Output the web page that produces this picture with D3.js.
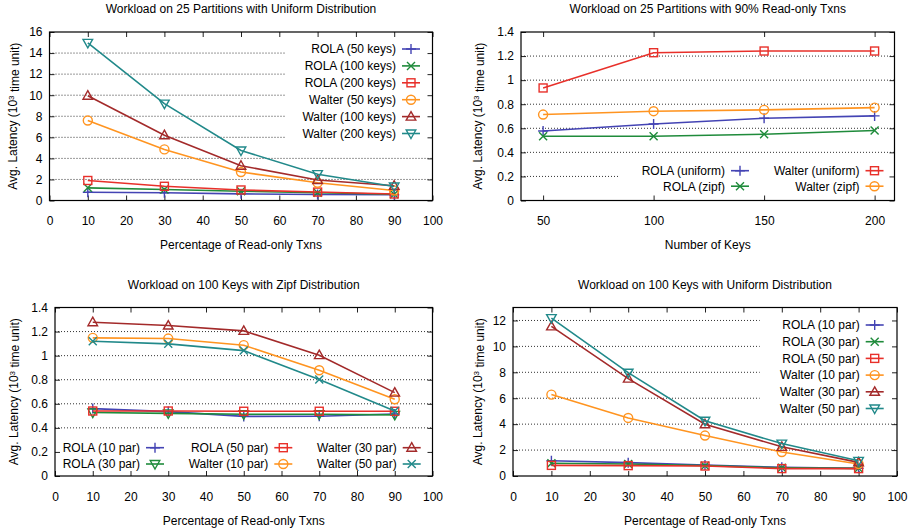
<!DOCTYPE html>
<html>
<head>
<meta charset="utf-8">
<script src="https://cdn.jsdelivr.net/npm/d3@7"></script>
<style>
  body { margin: 0; background: #fff; }
  svg text { font-family: "Liberation Sans", Arial, Helvetica, sans-serif; fill: #000; }
</style>
</head>
<body>
<div id="chart"></div>
<script>
// Data {{{
// x values
const pctX = [10, 30, 50, 70, 90];
const keysX = [50, 100, 150, 200];

// tick labels
const pctTicks = [0, 10, 20, 30, 40, 50, 60, 70, 80, 90, 100];
const keysTicks = [50, 100, 150, 200];
const ticks16 = [0, 2, 4, 6, 8, 10, 12, 14, 16];
const ticks12 = [0, 2, 4, 6, 8, 10, 12];
const ticks14 = [0, 0.2, 0.4, 0.6, 0.8, 1, 1.2, 1.4];

// Workload on 25 Partitions with Uniform Distribution
const p1Labels = ["ROLA (50 keys)", "ROLA (100 keys)", "ROLA (200 keys)", "Walter (50 keys)", "Walter (100 keys)", "Walter (200 keys)"];
const rola50keys = [0.79, 0.73, 0.63, 0.57, 0.54];
const rola100keys = [1.2, 1.05, 0.88, 0.73, 0.6];
const rola200keys = [1.9, 1.35, 1.0, 0.8, 0.62];
const walter50keys = [7.6, 4.85, 2.7, 1.68, 0.95];
const walter100keys = [9.95, 6.2, 3.3, 1.95, 1.4];
const walter200keys = [14.97, 9.2, 4.75, 2.5, 1.33];

// Workload on 25 Partitions with 90% Read-only Txns
const p2Labels = ["ROLA (uniform)", "ROLA (zipf)", "Walter (uniform)", "Walter (zipf)"];
const rolaUniform = [0.578, 0.636, 0.683, 0.703];
const rolaZipf = [0.534, 0.534, 0.551, 0.581];
const walterUniform = [0.935, 1.228, 1.242, 1.242];
const walterZipf = [0.714, 0.742, 0.753, 0.772];

// Workload on 100 Keys with Zipf Distribution
const p3Labels = ["ROLA (10 par)", "ROLA (30 par)", "ROLA (50 par)", "Walter (10 par)", "Walter (30 par)", "Walter (50 par)"];
const zipfRola10 = [0.56, 0.535, 0.495, 0.497, 0.515];
const zipfRola30 = [0.527, 0.52, 0.513, 0.513, 0.508];
const zipfRola50 = [0.54, 0.54, 0.538, 0.538, 0.538];
const zipfWalter10 = [1.148, 1.142, 1.087, 0.879, 0.638];
const zipfWalter30 = [1.278, 1.25, 1.206, 1.004, 0.693];
const zipfWalter50 = [1.12, 1.098, 1.042, 0.801, 0.541];

// Workload on 100 Keys with Uniform Distribution
const p4Labels = ["ROLA (10 par)", "ROLA (30 par)", "ROLA (50 par)", "Walter (10 par)", "Walter (30 par)", "Walter (50 par)"];
const unifRola10 = [1.18, 1.03, 0.85, 0.67, 0.59];
const unifRola30 = [0.98, 0.93, 0.8, 0.63, 0.59];
const unifRola50 = [0.82, 0.8, 0.77, 0.57, 0.57];
const unifWalter10 = [6.28, 4.48, 3.12, 1.85, 0.93];
const unifWalter30 = [11.54, 7.51, 3.99, 2.25, 1.05];
const unifWalter50 = [12.18, 7.97, 4.26, 2.5, 1.17];
// }}}

// Consts {{{
const width = 916, height = 530;
const c = {
    blue: "#4444b4", green: "#1f8b3b", red: "#e8302a",
    orange: "#ff9420", brown: "#a32a2a", teal: "#21898a"
};
const xLabelPct = "Percentage of Read-only Txns";

const svg = d3.select("#chart").append("svg")
    .attr("width", width)
    .attr("height", height);

const panels = [
    {
        title: "Workload on 25 Partitions with Uniform Distribution",
        xlabel: xLabelPct,
        box: {left: 49.5, right: 432.5, top: 32, bottom: 200.5},
        xdom: [0, 100], xticks: pctTicks, ydom: [0, 16], yticks: ticks16,
        titleY: 12.5, xlabelY: 248.5, ylabelX: 13,
        x: pctX,
        series: [
            {name: p1Labels[0], v: rola50keys, color: c.blue, mark: "plus"},
            {name: p1Labels[1], v: rola100keys, color: c.green, mark: "cross"},
            {name: p1Labels[2], v: rola200keys, color: c.red, mark: "square"},
            {name: p1Labels[3], v: walter50keys, color: c.orange, mark: "circle"},
            {name: p1Labels[4], v: walter100keys, color: c.brown, mark: "tri"},
            {name: p1Labels[5], v: walter200keys, color: c.teal, mark: "itri"}
        ],
        legend: {cols: [396], rows: 6, y0: 49, dy: 16.9, boxX: 285, boxTop: 40, boxBottom: 142}
    },
    {
        title: "Workload on 25 Partitions with 90% Read-only Txns",
        xlabel: "Number of Keys",
        box: {left: 521, right: 894.5, top: 32, bottom: 200.5},
        xdom: [40, 209], xticks: keysTicks, ydom: [0, 1.4], yticks: ticks14,
        titleY: 12.5, xlabelY: 248.5, ylabelX: 478,
        x: keysX,
        series: [
            {name: p2Labels[0], v: rolaUniform, color: c.blue, mark: "plus"},
            {name: p2Labels[1], v: rolaZipf, color: c.green, mark: "cross"},
            {name: p2Labels[2], v: walterUniform, color: c.red, mark: "square"},
            {name: p2Labels[3], v: walterZipf, color: c.orange, mark: "circle"}
        ],
        legend: {cols: [725, 859.5], rows: 2, y0: 170.7, dy: 15.5, boxX: 619.5, boxTop: 162, boxBottom: 195}
    },
    {
        title: "Workload on 100 Keys with Zipf Distribution",
        xlabel: xLabelPct,
        box: {left: 55, right: 432.5, top: 307.5, bottom: 476},
        xdom: [0, 100], xticks: pctTicks, ydom: [0, 1.4], yticks: ticks14,
        titleY: 288.5, xlabelY: 525, ylabelX: 13.5,
        x: pctX,
        series: [
            {name: p3Labels[0], v: zipfRola10, color: c.blue, mark: "plus"},
            {name: p3Labels[1], v: zipfRola30, color: c.green, mark: "itri"},
            {name: p3Labels[2], v: zipfRola50, color: c.red, mark: "square"},
            {name: p3Labels[3], v: zipfWalter10, color: c.orange, mark: "circle"},
            {name: p3Labels[4], v: zipfWalter30, color: c.brown, mark: "tri"},
            {name: p3Labels[5], v: zipfWalter50, color: c.teal, mark: "cross"}
        ],
        legend: {cols: [140, 268.3, 396.7], rows: 2, y0: 447.7, dy: 16.3, boxX: 55, boxTop: 439, boxBottom: 473}
    },
    {
        title: "Workload on 100 Keys with Uniform Distribution",
        xlabel: xLabelPct,
        box: {left: 513, right: 897, top: 307.5, bottom: 476},
        xdom: [0, 100], xticks: pctTicks, ydom: [0, 13], yticks: ticks12,
        titleY: 288.5, xlabelY: 525, ylabelX: 478,
        x: pctX,
        series: [
            {name: p4Labels[0], v: unifRola10, color: c.blue, mark: "plus"},
            {name: p4Labels[1], v: unifRola30, color: c.green, mark: "cross"},
            {name: p4Labels[2], v: unifRola50, color: c.red, mark: "square"},
            {name: p4Labels[3], v: unifWalter10, color: c.orange, mark: "circle"},
            {name: p4Labels[4], v: unifWalter30, color: c.brown, mark: "tri"},
            {name: p4Labels[5], v: unifWalter50, color: c.teal, mark: "itri"}
        ],
        legend: {cols: [859.7], rows: 6, y0: 325, dy: 16.7, boxX: 759.7, boxTop: 316, boxBottom: 417}
    }
];
// }}}

// helpers {{{
// draws one point symbol, gnuplot style
function draw_mark(g, type, cx, cy, color) {
    const s = g.append("g")
        .attr("transform", "translate(" + cx + "," + cy + ")")
        .attr("stroke", color)
        .attr("stroke-width", 1.4)
        .attr("fill", "none");
    if (type == "plus") {
        s.append("path").attr("d", "M-5,0H5M0,-5V5");
    } else if (type == "cross") {
        s.append("path").attr("d", "M-4,-4L4,4M-4,4L4,-4");
    } else if (type == "square") {
        s.append("rect").attr("x", -4).attr("y", -4).attr("width", 8).attr("height", 8);
    } else if (type == "circle") {
        s.append("circle").attr("r", 4.5);
    } else if (type == "tri") {
        s.append("path").attr("d", "M0,-5L4.8,3.5L-4.8,3.5Z");
    } else if (type == "itri") {
        s.append("path").attr("d", "M0,5L4.8,-3.5L-4.8,-3.5Z");
    }
}

function fmt(d) {
    return String(+d.toFixed(2));
}
// }}}

// Plotting {{{
function plot_panel(p) {
    const b = p.box;
    const g = svg.append("g");
    const x = d3.scaleLinear().domain(p.xdom).range([b.left, b.right]);
    const y = d3.scaleLinear().domain(p.ydom).range([b.bottom, b.top]);
    const L = p.legend;

    // dotted y grid, cut where the key sits
    p.yticks.forEach(function(t) {
        const yy = y(t);
        if (yy <= b.top + 1 || yy >= b.bottom - 1) return;
        let x2 = b.right;
        if (yy >= L.boxTop && yy <= L.boxBottom) x2 = L.boxX;
        if (x2 <= b.left + 2) return;
        g.append("line")
            .attr("x1", b.left).attr("x2", x2)
            .attr("y1", yy).attr("y2", yy)
            .attr("stroke", "#333")
            .attr("stroke-width", 1)
            .attr("stroke-dasharray", "1,2");
    });

    // axes with inward ticks on all four sides
    const ax = [
        [d3.axisBottom(x).tickValues(p.xticks).tickFormat(fmt).tickPadding(16), "translate(0," + b.bottom + ")"],
        [d3.axisTop(x).tickValues(p.xticks).tickFormat(""), "translate(0," + b.top + ")"],
        [d3.axisLeft(y).tickValues(p.yticks).tickFormat(fmt).tickPadding(7), "translate(" + b.left + ",0)"],
        [d3.axisRight(y).tickValues(p.yticks).tickFormat(""), "translate(" + b.right + ",0)"]
    ];
    ax.forEach(function(a) {
        const axg = g.append("g")
            .attr("transform", a[1])
            .call(a[0].tickSizeInner(-5).tickSizeOuter(0));
        axg.select(".domain").remove();
        axg.selectAll("line").attr("stroke", "#222");
        axg.selectAll("text")
            .style("font-size", "12px")
            .style("font-family", "'Liberation Sans', Arial, sans-serif")
            .attr("fill", "#000");
    });

    // border
    g.append("rect")
        .attr("x", b.left).attr("y", b.top)
        .attr("width", b.right - b.left).attr("height", b.bottom - b.top)
        .attr("fill", "none")
        .attr("stroke", "#000")
        .attr("stroke-width", 1.2);

    // series
    const line = d3.line().x(d => x(d[0])).y(d => y(d[1]));
    p.series.forEach(function(s) {
        const pts = p.x.map((xv, i) => [xv, s.v[i]]);
        g.append("path")
            .attr("d", line(pts))
            .attr("fill", "none")
            .attr("stroke", s.color)
            .attr("stroke-width", 1.6);
        pts.forEach(function(d) {
            draw_mark(g, s.mark, x(d[0]), y(d[1]), s.color);
        });
    });

    // key
    p.series.forEach(function(s, i) {
        const col = Math.floor(i / L.rows);
        const row = i % L.rows;
        const tx = L.cols[col];
        const ty = L.y0 + row * L.dy;
        g.append("text")
            .attr("x", tx).attr("y", ty)
            .attr("dy", "0.36em")
            .attr("text-anchor", "end")
            .style("font-size", "12px")
            .text(s.name);
        g.append("line")
            .attr("x1", tx + 6).attr("x2", tx + 24)
            .attr("y1", ty).attr("y2", ty)
            .attr("stroke", s.color)
            .attr("stroke-width", 1.6);
        draw_mark(g, s.mark, tx + 15, ty, s.color);
    });

    // titles
    const cx = (b.left + b.right) / 2;
    const cy = (b.top + b.bottom) / 2;
    g.append("text")
        .attr("x", cx).attr("y", p.titleY)
        .attr("text-anchor", "middle")
        .style("font-size", "12px")
        .text(p.title);
    g.append("text")
        .attr("x", cx).attr("y", p.xlabelY)
        .attr("text-anchor", "middle")
        .style("font-size", "12px")
        .text(p.xlabel);
    const yl = g.append("text")
        .attr("transform", "translate(" + p.ylabelX + "," + cy + ") rotate(-90)")
        .attr("text-anchor", "middle")
        .attr("dy", "0.36em")
        .style("font-size", "12px");
    yl.append("tspan").text("Avg. Latency (10");
    yl.append("tspan").attr("dy", "-0.4em").style("font-size", "8px").text("3");
    yl.append("tspan").attr("dy", "0.4em").text(" time unit)");
}

panels.forEach(plot_panel);
// }}}
</script>
</body>
</html>
